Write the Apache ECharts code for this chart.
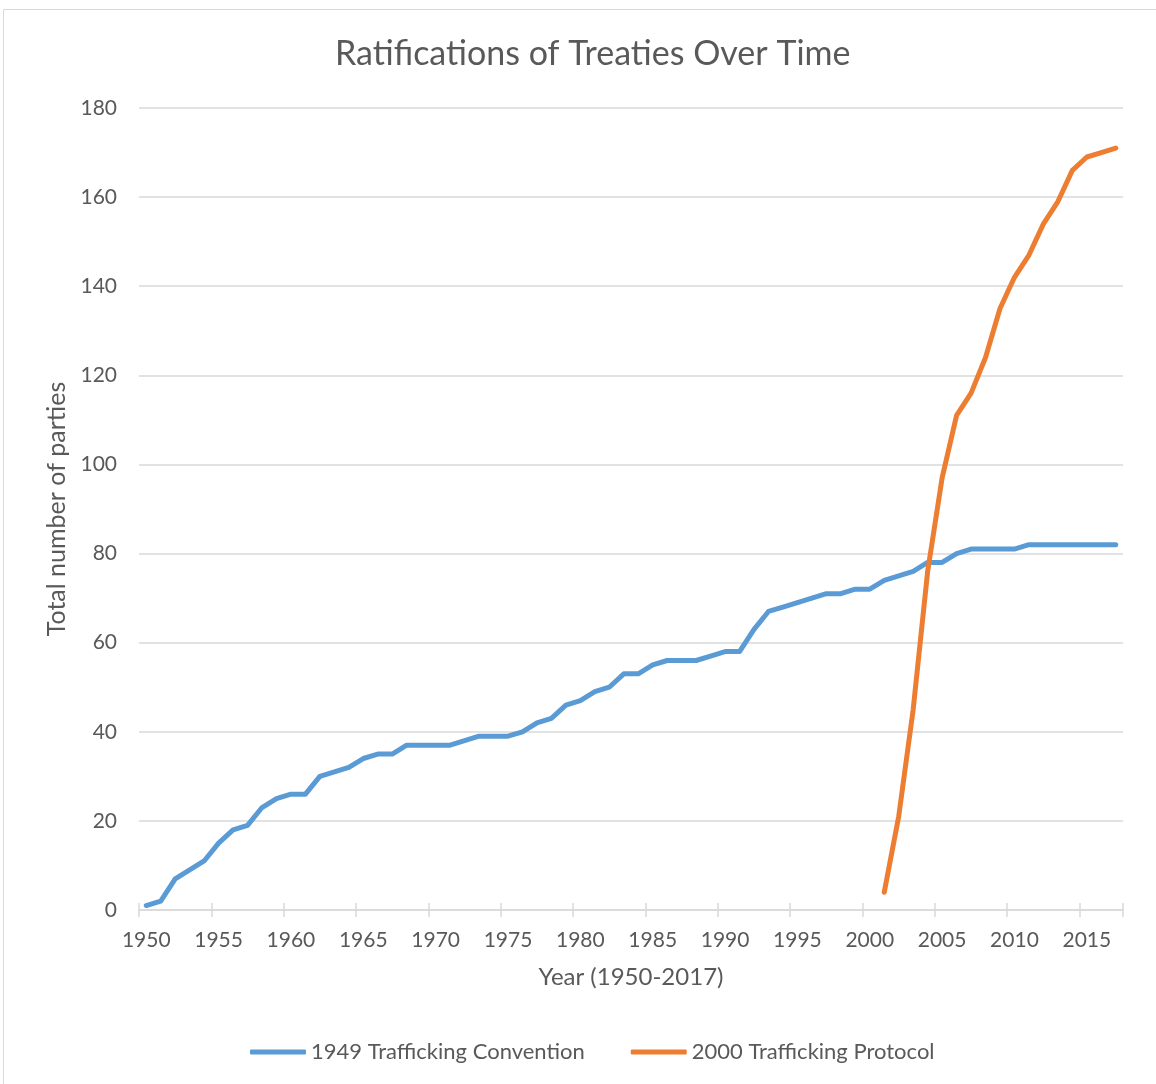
<!DOCTYPE html>
<html>
<head>
<meta charset="utf-8">
<title>Ratifications of Treaties Over Time</title>
<script src="https://cdn.jsdelivr.net/npm/echarts@6/dist/echarts.min.js"></script>
<style>
  html, body { margin: 0; padding: 0; background: #fff; }
  #chart { width: 1156px; height: 1084px; }
</style>
</head>
<body>
<div id="chart"></div>
<script>
// years 1950 .. 2017
const years = []
for (let y = 1950; y <= 2017; y++) years.push(String(y))

const seriesNames = ['1949 Trafficking Convention', '2000 Trafficking Protocol']

// 1949 convention, cumulative parties per year
const convention = [
  1, 2, 7, 9, 11, 15, 18, 19, 23, 25,
  26, 26, 30, 31, 32, 34, 35, 35, 37, 37,
  37, 37, 38, 39, 39, 39, 40, 42, 43, 46,
  47, 49, 50, 53, 53, 55, 56, 56, 56, 57,
  58, 58, 63, 67, 68, 69, 70, 71, 71, 72,
  72, 74, 75, 76, 78, 78, 80, 81, 81, 81,
  81, 82, 82, 82, 82, 82, 82, 82
]

// 2000 protocol, starts 2001
const protocolStart = 2001
const protocol = [4, 21, 45, 76, 97, 111, 116, 124, 135, 142, 147, 154, 159, 166, 169, 170, 171]

const yTicks = { min: 0, max: 180, interval: 20 }

const protocolData = years.map(y => {
  const i = Number(y) - protocolStart
  return i >= 0 ? protocol[i] : null
})

const textColor = '#595959'
const gridColor = '#D9D9D9'
const font = 'Lato, "Open Sans", sans-serif'
const everyFifth = (index) => index % 5 === 0 && index < years.length

const chart = echarts.init(document.getElementById('chart'))
chart.setOption({
  animation: false,
  color: ['#5B9BD5', '#ED7D31'],
  textStyle: { fontFamily: font },
  graphic: [{
    type: 'rect',
    shape: { x: 3.5, y: 9.5, width: 1200, height: 1200 },
    style: { fill: 'none', stroke: gridColor, lineWidth: 1 },
    silent: true
  }],
  title: {
    text: 'Ratifications of Treaties Over Time',
    left: 330,
    top: 32,
    textStyle: { color: textColor, fontSize: 34, fontWeight: 'normal', fontFamily: font }
  },
  legend: {
    data: seriesNames,
    left: 245,
    top: 1036,
    icon: 'roundRect',
    itemWidth: 56,
    itemHeight: 5,
    itemGap: 46,
    textStyle: { color: textColor, fontSize: 22, fontFamily: font }
  },
  grid: {
    left: 139,
    right: 33,
    top: 108,
    bottom: 174
  },
  xAxis: [{
    type: 'category',
    data: years,
    boundaryGap: true,
    name: 'Year (1950-2017)',
    nameLocation: 'middle',
    nameGap: 55,
    nameTextStyle: { color: textColor, fontSize: 24, fontFamily: font },
    axisLine: { lineStyle: { color: gridColor, width: 1.5 } },
    axisTick: { show: true, interval: everyFifth, length: 7, lineStyle: { color: gridColor, width: 1.5 } },
    axisLabel: { interval: 4, color: textColor, fontSize: 21, margin: 20, fontFamily: font }
  }, {
    // second copy only for the inward half of the crossing ticks
    type: 'category',
    data: years,
    position: 'bottom',
    boundaryGap: true,
    axisLine: { show: false },
    axisTick: { show: true, inside: true, interval: everyFifth, length: 7, lineStyle: { color: gridColor, width: 1.5 } },
    axisLabel: { show: false },
    splitLine: { show: false }
  }],
  yAxis: {
    type: 'value',
    min: yTicks.min,
    max: yTicks.max,
    interval: yTicks.interval,
    name: 'Total number of parties',
    nameLocation: 'middle',
    nameGap: 68,
    nameTextStyle: { color: textColor, fontSize: 25, fontFamily: font },
    axisLine: { show: false },
    axisTick: { show: false },
    axisLabel: { color: textColor, fontSize: 21, margin: 22, fontFamily: font },
    splitLine: { lineStyle: { color: gridColor, width: 1.5 } }
  },
  series: [{
    name: seriesNames[0],
    type: 'line',
    data: convention,
    showSymbol: false,
    symbol: 'none',
    lineStyle: { width: 5, cap: 'round', join: 'round' }
  }, {
    name: seriesNames[1],
    type: 'line',
    data: protocolData,
    showSymbol: false,
    symbol: 'none',
    lineStyle: { width: 5, cap: 'round', join: 'round' }
  }]
})
</script>
</body>
</html>
